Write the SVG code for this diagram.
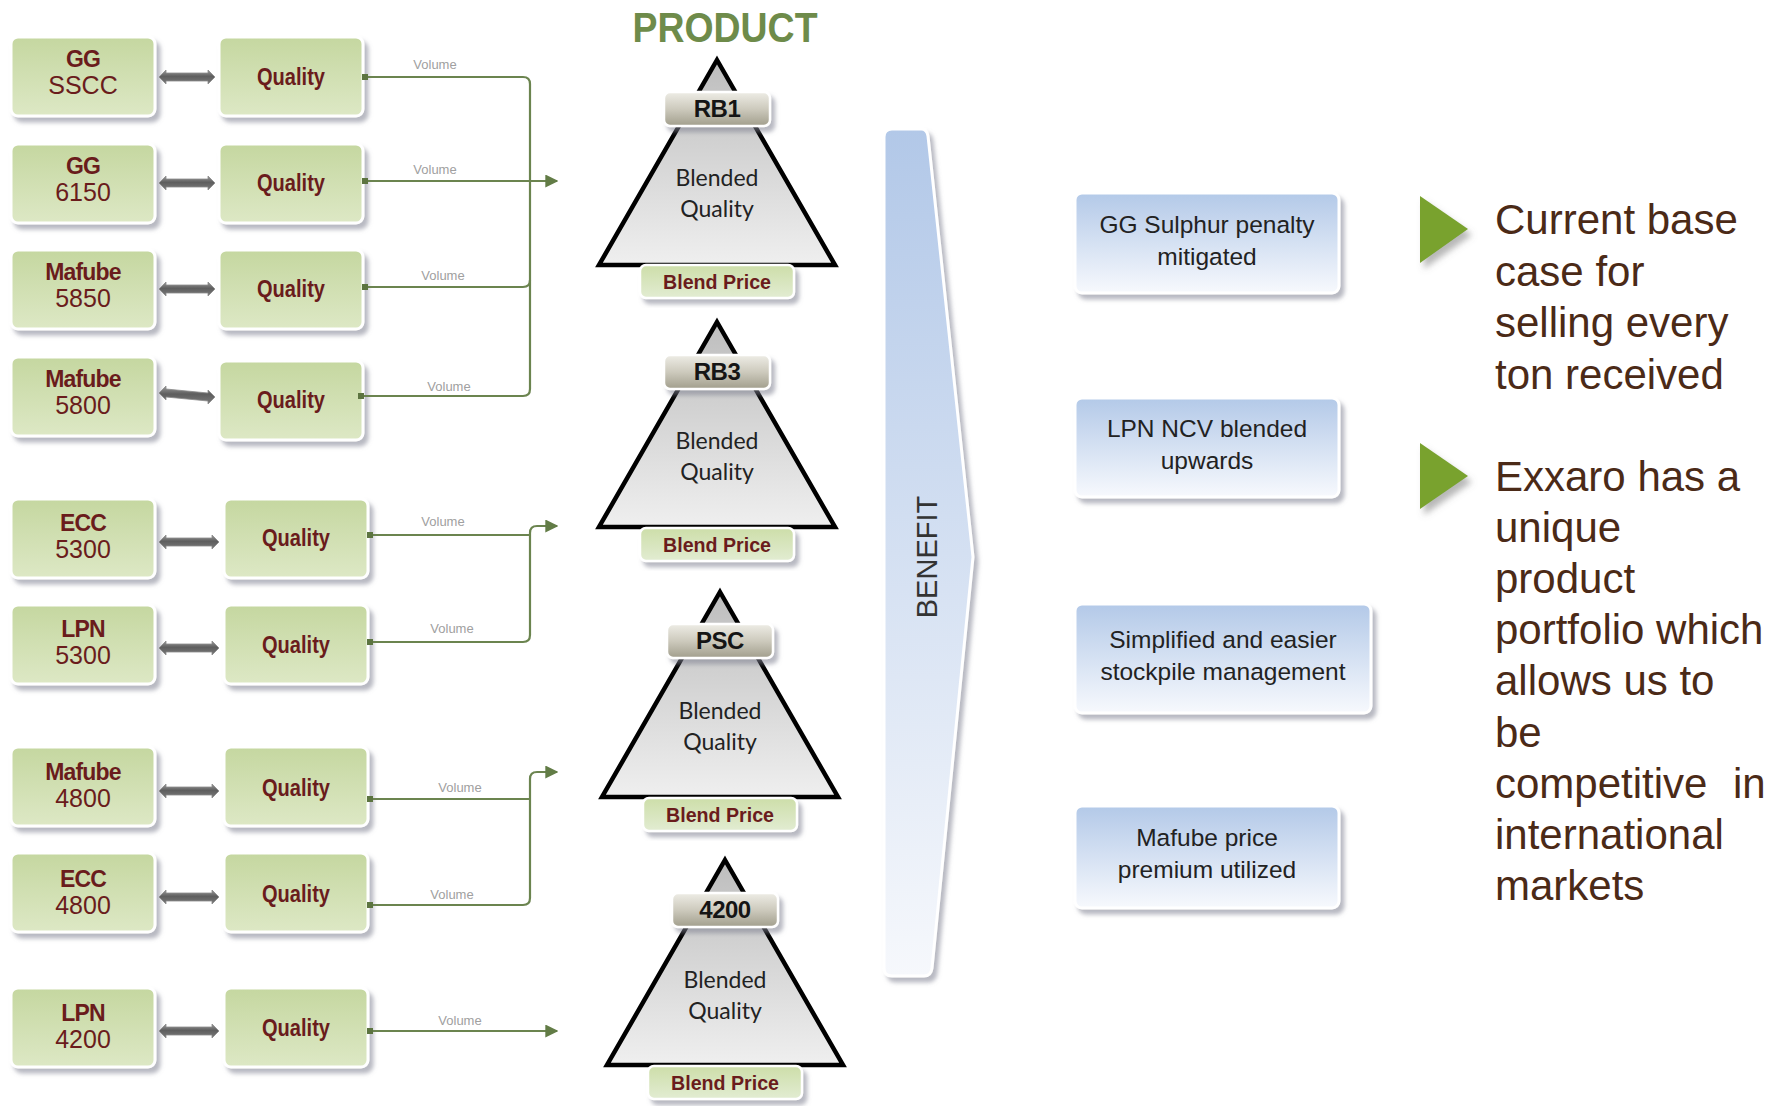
<svg xmlns="http://www.w3.org/2000/svg" width="1781" height="1106" viewBox="0 0 1781 1106">
  <defs>
    <linearGradient id="gBox" x1="0" y1="0" x2="0" y2="1">
      <stop offset="0" stop-color="#c5d7a0"/>
      <stop offset="1" stop-color="#dde8c5"/>
    </linearGradient>
    <linearGradient id="gTri" x1="0" y1="0" x2="0" y2="1">
      <stop offset="0" stop-color="#bdbdbd"/>
      <stop offset="1" stop-color="#efefef"/>
    </linearGradient>
    <linearGradient id="gTag" x1="0" y1="0" x2="0" y2="1">
      <stop offset="0" stop-color="#eeede6"/>
      <stop offset="0.5" stop-color="#cdcabd"/>
      <stop offset="1" stop-color="#a19e8c"/>
    </linearGradient>
    <linearGradient id="gPrice" x1="0" y1="0" x2="0" y2="1">
      <stop offset="0" stop-color="#cddea9"/>
      <stop offset="1" stop-color="#e2ecd2"/>
    </linearGradient>
    <linearGradient id="gBlue" x1="0" y1="0" x2="0" y2="1">
      <stop offset="0" stop-color="#b3c9e8"/>
      <stop offset="1" stop-color="#f7f9fd"/>
    </linearGradient>
    <linearGradient id="gBenefit" x1="0" y1="0" x2="0" y2="1">
      <stop offset="0" stop-color="#b2c8e8"/>
      <stop offset="1" stop-color="#f6f8fc"/>
    </linearGradient>
    <linearGradient id="gBar" x1="0" y1="0" x2="0" y2="1">
      <stop offset="0" stop-color="#9a9a9a"/>
      <stop offset="0.45" stop-color="#5e5e5e"/>
      <stop offset="1" stop-color="#7a7a7a"/>
    </linearGradient>
    <filter id="sh" x="-10%" y="-10%" width="130%" height="140%">
      <feDropShadow dx="4" dy="5" stdDeviation="2" flood-color="#7d8090" flood-opacity="0.55"/>
    </filter>
    <filter id="shSoft" x="-20%" y="-20%" width="160%" height="160%">
      <feDropShadow dx="4" dy="6" stdDeviation="3" flood-color="#707070" flood-opacity="0.5"/>
    </filter>
    <marker id="ah" viewBox="0 0 10 10" refX="9" refY="5" markerWidth="13" markerHeight="13" markerUnits="userSpaceOnUse" orient="auto">
      <path d="M0,0 L10,5 L0,10 Z" fill="#627c46"/>
    </marker>
    <marker id="sq" viewBox="0 0 6 6" refX="1" refY="3" markerWidth="6" markerHeight="7" markerUnits="userSpaceOnUse" orient="auto">
      <rect x="0" y="0" width="6" height="6" fill="#5c7440"/>
    </marker>
  </defs>
  <style>
    .src rect.b { fill: url(#gBox); stroke: #ffffff; stroke-width: 3; filter: url(#sh); }
    .nm { font-family: "Liberation Sans", Arial, sans-serif; font-weight: bold; font-size: 23px; fill: #6a1c1c; text-anchor: middle; letter-spacing: -0.8px; }
    .num { font-family: "Liberation Sans", Arial, sans-serif; font-size: 25px; fill: #6a1c1c; text-anchor: middle; }
    .ql { font-family: "Liberation Sans", Arial, sans-serif; font-weight: bold; font-size: 24px; fill: #6a1c1c; text-anchor: middle; }
    .vol { font-family: "Liberation Sans", Arial, sans-serif; font-size: 13px; fill: #a0a0a0; text-anchor: middle; }
    .link { fill: none; stroke: #6b844f; stroke-width: 2.2; }
    .bar { fill: url(#gBar); stroke: #8a8a8a; stroke-width: 0.8; }
    .tri { fill: url(#gTri); stroke: #000000; stroke-width: 4.5; stroke-linejoin: miter; }
    .tag { fill: url(#gTag); stroke: #ffffff; stroke-width: 2.5; filter: url(#sh); }
    .tagt { font-family: "Liberation Sans", Arial, sans-serif; font-weight: bold; font-size: 24px; fill: #151515; text-anchor: middle; letter-spacing: -0.5px; }
    .price { fill: url(#gPrice); stroke: #ffffff; stroke-width: 2.5; filter: url(#sh); }
    .pricet { font-family: "Liberation Sans", Arial, sans-serif; font-weight: bold; font-size: 21px; fill: #6a1c1c; text-anchor: middle; }
    .bq { font-family: Lato, "Open Sans", sans-serif; font-size: 23px; fill: #222222; text-anchor: middle; }
    .ben { fill: url(#gBlue); stroke: #ffffff; stroke-width: 3; filter: url(#sh); }
    .bent { font-family: "Liberation Sans", Arial, sans-serif; font-size: 24.5px; fill: #222222; text-anchor: middle; }
    .side { font-family: "Liberation Sans", Arial, sans-serif; font-size: 42px; fill: #4b2a17; }
    .bullet { fill: #79a22e; filter: url(#shSoft); }
  </style>

  <rect width="1781" height="1106" fill="#ffffff"/>

  <!-- heading over the product column -->
  <text x="725" y="42" font-family="'Liberation Sans', Arial, sans-serif" font-weight="bold" font-size="42" fill="#6e8b4a" text-anchor="middle" textLength="185" lengthAdjust="spacingAndGlyphs">PRODUCT</text>

  <!-- source mines -->
  <g id="src-gg-sscc" class="src">
    <rect class="b" x="11" y="37" width="144" height="79" rx="7"/>
    <text class="nm" x="83" y="67">GG</text>
    <text class="num" x="83" y="94">SSCC</text>
  </g>
  <g id="src-gg-6150" class="src">
    <rect class="b" x="11" y="144" width="144" height="79" rx="7"/>
    <text class="nm" x="83" y="174">GG</text>
    <text class="num" x="83" y="201">6150</text>
  </g>
  <g id="src-mafube-5850" class="src">
    <rect class="b" x="11" y="250" width="144" height="79" rx="7"/>
    <text class="nm" x="83" y="280">Mafube</text>
    <text class="num" x="83" y="307">5850</text>
  </g>
  <g id="src-mafube-5800" class="src">
    <rect class="b" x="11" y="357" width="144" height="79" rx="7"/>
    <text class="nm" x="83" y="387">Mafube</text>
    <text class="num" x="83" y="414">5800</text>
  </g>
  <g id="src-ecc-5300" class="src">
    <rect class="b" x="11" y="499" width="144" height="79" rx="7"/>
    <text class="nm" x="83" y="531">ECC</text>
    <text class="num" x="83" y="558">5300</text>
  </g>
  <g id="src-lpn-5300" class="src">
    <rect class="b" x="11" y="605" width="144" height="79" rx="7"/>
    <text class="nm" x="83" y="637">LPN</text>
    <text class="num" x="83" y="664">5300</text>
  </g>
  <g id="src-mafube-4800" class="src">
    <rect class="b" x="11" y="747" width="144" height="79" rx="7"/>
    <text class="nm" x="83" y="780">Mafube</text>
    <text class="num" x="83" y="807">4800</text>
  </g>
  <g id="src-ecc-4800" class="src">
    <rect class="b" x="11" y="853" width="144" height="79" rx="7"/>
    <text class="nm" x="83" y="887">ECC</text>
    <text class="num" x="83" y="914">4800</text>
  </g>
  <g id="src-lpn-4200" class="src">
    <rect class="b" x="11" y="988" width="144" height="79" rx="7"/>
    <text class="nm" x="83" y="1021">LPN</text>
    <text class="num" x="83" y="1048">4200</text>
  </g>

  <!-- quality boxes -->
  <g id="q1" class="src"><rect class="b" x="219" y="37" width="144" height="79" rx="7"/><text class="ql" x="291" y="85" textLength="68" lengthAdjust="spacingAndGlyphs">Quality</text></g>
  <g id="q2" class="src"><rect class="b" x="219" y="144" width="144" height="79" rx="7"/><text class="ql" x="291" y="191" textLength="68" lengthAdjust="spacingAndGlyphs">Quality</text></g>
  <g id="q3" class="src"><rect class="b" x="219" y="250" width="144" height="79" rx="7"/><text class="ql" x="291" y="297" textLength="68" lengthAdjust="spacingAndGlyphs">Quality</text></g>
  <g id="q4" class="src"><rect class="b" x="219" y="361" width="144" height="79" rx="7"/><text class="ql" x="291" y="408" textLength="68" lengthAdjust="spacingAndGlyphs">Quality</text></g>
  <g id="q5" class="src"><rect class="b" x="224" y="499" width="144" height="79" rx="7"/><text class="ql" x="296" y="546" textLength="68" lengthAdjust="spacingAndGlyphs">Quality</text></g>
  <g id="q6" class="src"><rect class="b" x="224" y="605" width="144" height="79" rx="7"/><text class="ql" x="296" y="653" textLength="68" lengthAdjust="spacingAndGlyphs">Quality</text></g>
  <g id="q7" class="src"><rect class="b" x="224" y="747" width="144" height="79" rx="7"/><text class="ql" x="296" y="796" textLength="68" lengthAdjust="spacingAndGlyphs">Quality</text></g>
  <g id="q8" class="src"><rect class="b" x="224" y="853" width="144" height="79" rx="7"/><text class="ql" x="296" y="902" textLength="68" lengthAdjust="spacingAndGlyphs">Quality</text></g>
  <g id="q9" class="src"><rect class="b" x="224" y="988" width="144" height="79" rx="7"/><text class="ql" x="296" y="1036" textLength="68" lengthAdjust="spacingAndGlyphs">Quality</text></g>

  <!-- product blends -->
  <g id="prod-rb1">
    <polygon class="tri" points="717,60 835,265 599,265"/>
    <rect class="tag" x="664" y="92" width="106" height="34" rx="6"/>
    <text class="tagt" x="717" y="117">RB1</text>
    <text class="bq" x="717" y="186">Blended</text>
    <text class="bq" x="717" y="217">Quality</text>
    <rect class="price" x="640" y="265" width="154" height="33" rx="6"/>
    <text class="pricet" x="717" y="289" textLength="108" lengthAdjust="spacingAndGlyphs">Blend Price</text>
  </g>
  <g id="prod-rb3">
    <polygon class="tri" points="717,322 835,527 599,527"/>
    <rect class="tag" x="664" y="355" width="106" height="34" rx="6"/>
    <text class="tagt" x="717" y="380">RB3</text>
    <text class="bq" x="717" y="449">Blended</text>
    <text class="bq" x="717" y="480">Quality</text>
    <rect class="price" x="640" y="528" width="154" height="33" rx="6"/>
    <text class="pricet" x="717" y="552" textLength="108" lengthAdjust="spacingAndGlyphs">Blend Price</text>
  </g>
  <g id="prod-psc">
    <polygon class="tri" points="720,592 838,797 602,797"/>
    <rect class="tag" x="667" y="624" width="106" height="34" rx="6"/>
    <text class="tagt" x="720" y="649">PSC</text>
    <text class="bq" x="720" y="719">Blended</text>
    <text class="bq" x="720" y="750">Quality</text>
    <rect class="price" x="643" y="798" width="154" height="33" rx="6"/>
    <text class="pricet" x="720" y="822" textLength="108" lengthAdjust="spacingAndGlyphs">Blend Price</text>
  </g>
  <g id="prod-4200">
    <polygon class="tri" points="725,860 843,1065 607,1065"/>
    <rect class="tag" x="672" y="893" width="106" height="34" rx="6"/>
    <text class="tagt" x="725" y="918">4200</text>
    <text class="bq" x="725" y="988">Blended</text>
    <text class="bq" x="725" y="1019">Quality</text>
    <rect class="price" x="648" y="1066" width="154" height="33" rx="6"/>
    <text class="pricet" x="725" y="1090" textLength="108" lengthAdjust="spacingAndGlyphs">Blend Price</text>
  </g>

  <!-- benefit arrow -->
  <g id="benefit">
    <path d="M892,129 H921 Q927,129 928,136 L973,557 L932,968 Q931,976 924,976 H892 Q884,976 884,968 V137 Q884,129 892,129 Z" fill="url(#gBenefit)" stroke="#ffffff" stroke-width="3" filter="url(#sh)"/>
    <text transform="translate(937,557) rotate(-90)" font-family="'Liberation Sans', Arial, sans-serif" font-size="29" fill="#333333" text-anchor="middle">BENEFIT</text>
  </g>

  <!-- benefits -->
  <g id="ben-sulphur">
    <rect class="ben" x="1075" y="193" width="264" height="100" rx="7"/>
    <text class="bent" x="1207" y="233">GG Sulphur penalty</text>
    <text class="bent" x="1207" y="265">mitigated</text>
  </g>
  <g id="ben-ncv">
    <rect class="ben" x="1075" y="398" width="264" height="99" rx="7"/>
    <text class="bent" x="1207" y="437">LPN NCV blended</text>
    <text class="bent" x="1207" y="469">upwards</text>
  </g>
  <g id="ben-stockpile">
    <rect class="ben" x="1075" y="604" width="296" height="109" rx="7"/>
    <text class="bent" x="1223" y="648">Simplified and easier</text>
    <text class="bent" x="1223" y="680">stockpile management</text>
  </g>
  <g id="ben-mafube">
    <rect class="ben" x="1075" y="806" width="264" height="102" rx="7"/>
    <text class="bent" x="1207" y="846">Mafube price</text>
    <text class="bent" x="1207" y="878">premium utilized</text>
  </g>

  <!-- key points -->
  <g id="point-base-case">
    <polygon class="bullet" points="1420,196 1468,229 1420,263"/>
    <text class="side" x="1495" y="234">Current base</text>
    <text class="side" x="1495" y="286">case for</text>
    <text class="side" x="1495" y="337">selling every</text>
    <text class="side" x="1495" y="389">ton received</text>
  </g>
  <g id="point-portfolio">
    <polygon class="bullet" points="1420,443 1468,476 1420,509"/>
    <text class="side" x="1495" y="491">Exxaro has a</text>
    <text class="side" x="1495" y="542">unique</text>
    <text class="side" x="1495" y="593">product</text>
    <text class="side" x="1495" y="644">portfolio which</text>
    <text class="side" x="1495" y="695">allows us to</text>
    <text class="side" x="1495" y="747">be</text>
    <text class="side" x="1495" y="798">competitive</text>
    <text class="side" x="1733" y="798">in</text>
    <text class="side" x="1495" y="849">international</text>
    <text class="side" x="1495" y="900">markets</text>
  </g>

  <!-- connectors -->
  <g id="connectors">
    <!-- mine to quality links -->
    <path class="bar" d="M159,77 l7,-7 v3 h42 v-3 l7,7 l-7,7 v-3 h-42 v3 Z"/>
    <path class="bar" d="M159,183 l7,-7 v3 h42 v-3 l7,7 l-7,7 v-3 h-42 v3 Z"/>
    <path class="bar" d="M159,289 l7,-7 v3 h42 v-3 l7,7 l-7,7 v-3 h-42 v3 Z"/>
    <path class="bar" d="M159,393 l7,-7 v3 l42,4 v-3 l7,7 l-7,7 v-3 l-42,-4 v3 Z"/>
    <path class="bar" d="M159,542 l7,-7 v3 h46 v-3 l7,7 l-7,7 v-3 h-46 v3 Z"/>
    <path class="bar" d="M159,648 l7,-7 v3 h46 v-3 l7,7 l-7,7 v-3 h-46 v3 Z"/>
    <path class="bar" d="M159,791 l7,-7 v3 h46 v-3 l7,7 l-7,7 v-3 h-46 v3 Z"/>
    <path class="bar" d="M159,897 l7,-7 v3 h46 v-3 l7,7 l-7,7 v-3 h-46 v3 Z"/>
    <path class="bar" d="M159,1031 l7,-7 v3 h46 v-3 l7,7 l-7,7 v-3 h-46 v3 Z"/>

    <!-- volume feeds into RB1 -->
    <path class="link" marker-start="url(#sq)" d="M363,77 H523 Q530,77 530,84 V389 Q530,396 523,396 H363" marker-end="url(#sq)"/>
    <path class="link" marker-start="url(#sq)" d="M363,287 H523 Q530,287 530,280"/>
    <path class="link" marker-start="url(#sq)" marker-end="url(#ah)" d="M363,181 H557"/>
    <!-- volume feeds into RB3 -->
    <path class="link" marker-start="url(#sq)" marker-end="url(#ah)" d="M368,642 H523 Q530,642 530,635 V533 Q530,526 537,526 H557"/>
    <path class="link" marker-start="url(#sq)" d="M368,535 H530"/>
    <!-- volume feeds into PSC -->
    <path class="link" marker-start="url(#sq)" marker-end="url(#ah)" d="M368,905 H523 Q530,905 530,898 V779 Q530,772 537,772 H557"/>
    <path class="link" marker-start="url(#sq)" d="M368,799 H530"/>
    <!-- volume feed into 4200 -->
    <path class="link" marker-start="url(#sq)" marker-end="url(#ah)" d="M368,1031 H557"/>

    <text class="vol" x="435" y="69">Volume</text>
    <text class="vol" x="435" y="174">Volume</text>
    <text class="vol" x="443" y="280">Volume</text>
    <text class="vol" x="449" y="391">Volume</text>
    <text class="vol" x="443" y="526">Volume</text>
    <text class="vol" x="452" y="633">Volume</text>
    <text class="vol" x="460" y="792">Volume</text>
    <text class="vol" x="452" y="899">Volume</text>
    <text class="vol" x="460" y="1025">Volume</text>
  </g>
</svg>
